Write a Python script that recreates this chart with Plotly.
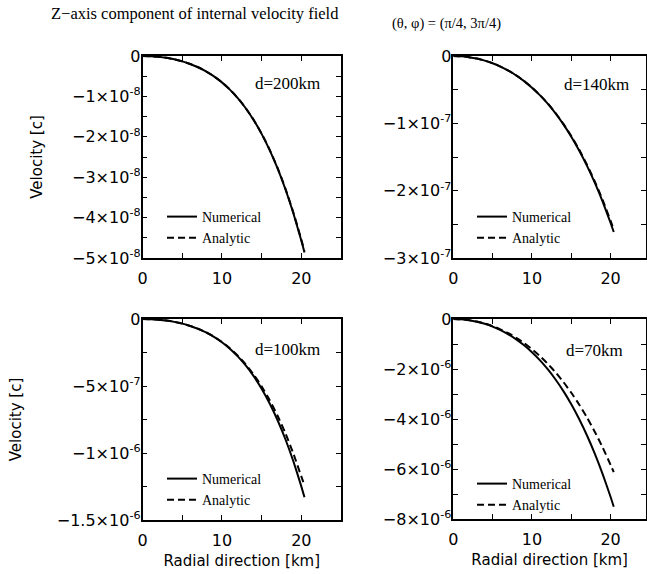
import plotly.graph_objects as go

W, H = 647, 574

# ---------------- data ----------------
R = [0, 1, 2, 3, 4, 5, 6, 7, 8, 9, 10, 11, 12, 13, 14, 15, 16, 17, 18, 19, 20, 20.4]

# d = 200 km, units of 1e-8 c (negative velocities)
D200_NUM = [0, 0.0049, 0.0199, 0.0454, 0.0826, 0.1327, 0.1975, 0.2792, 0.3804, 0.5038, 0.653,
            0.8316, 1.0436, 1.2936, 1.5866, 1.9277, 2.3226, 2.7775, 3.2987, 3.8932, 4.568, 4.862]
D200_ANA = [0, 0.0049, 0.0198, 0.0452, 0.0823, 0.1322, 0.1968, 0.2782, 0.3790, 0.5020, 0.6505,
            0.8285, 1.0395, 1.2885, 1.5800, 1.9195, 2.3125, 2.7650, 3.2830, 3.8740, 4.5440, 4.8350]
# d = 140 km, units of 1e-7 c
D140_NUM = [0, 0.0042, 0.0169, 0.0382, 0.0685, 0.1081, 0.1577, 0.2178, 0.2893, 0.373, 0.47,
            0.5814, 0.7085, 0.8526, 1.0153, 1.1981, 1.4029, 1.6314, 1.8857, 2.1678, 2.48, 2.614]
D140_ANA = [0, 0.0042, 0.0169, 0.0381, 0.0683, 0.1078, 0.1572, 0.2170, 0.2880, 0.3712, 0.4675,
            0.5780, 0.7040, 0.8465, 1.0075, 1.1880, 1.3900, 1.6150, 1.8650, 2.1420, 2.4480, 2.5780]
# d = 100 km, units of 1e-6 c
D100_NUM = [0, 0.00127, 0.00515, 0.0118, 0.0215, 0.0346, 0.0517, 0.0734, 0.1002, 0.1333, 0.1733,
            0.2215, 0.2789, 0.3469, 0.4268, 0.5202, 0.6286, 0.7537, 0.8975, 1.0619, 1.2488, 1.3306]
D100_ANA = [0, 0.00127, 0.00514, 0.0118, 0.0214, 0.0345, 0.0515, 0.0730, 0.0995, 0.1320, 0.1710,
            0.2180, 0.2735, 0.3385, 0.4145, 0.5025, 0.6040, 0.7200, 0.8530, 1.0040, 1.1750, 1.2400]
# d = 70 km, units of 1e-6 c
D70_NUM = [0, 0.0118, 0.0473, 0.1071, 0.1920, 0.3034, 0.4429, 0.6125, 0.8145, 1.0516, 1.327,
           1.6440, 2.0066, 2.4187, 2.8850, 3.4104, 4.0002, 4.6598, 5.3954, 6.2132, 7.12, 7.51]
D70_ANA = [0, 0.0112, 0.0449, 0.1015, 0.1814, 0.2853, 0.4142, 0.5691, 0.7515, 0.9628, 1.2047,
           1.4792, 1.7884, 2.1347, 2.5206, 2.9488, 3.4223, 3.9442, 4.5180, 5.1470, 5.8352, 6.1285]

PANEL_LABELS = ["d=200km", "d=140km", "d=100km", "d=70km"]
PANEL_UNITS = [1e-8, 1e-7, 1e-6, 1e-6]
SERIES_NAMES = ["Numerical", "Analytic"]

# y tick values (in panel units) and labels
Y_TICKS = [
    [0, -0.5, -1, -1.5, -2, -2.5, -3, -3.5, -4, -4.5, -5],
    [0, -0.5, -1, -1.5, -2, -2.5, -3],
    [0, -0.25, -0.5, -0.75, -1.0, -1.25, -1.5],
    [0, -1, -2, -3, -4, -5, -6, -7, -8],
]
Y_TICKTEXT = [
    ["0", "", "−1×10<sup>-8</sup>", "", "−2×10<sup>-8</sup>", "", "−3×10<sup>-8</sup>", "",
     "−4×10<sup>-8</sup>", "", "−5×10<sup>-8</sup>"],
    ["0", "", "−1×10<sup>-7</sup>", "", "−2×10<sup>-7</sup>", "", "−3×10<sup>-7</sup>"],
    ["0", "", "−5×10<sup>-7</sup>", "", "−1×10<sup>-6</sup>", "", "−1.5×10<sup>-6</sup>"],
    ["0", "", "−2×10<sup>-6</sup>", "", "−4×10<sup>-6</sup>", "", "−6×10<sup>-6</sup>", "",
     "−8×10<sup>-6</sup>"],
]
Y_MIN = [-5, -3, -1.5, -8]
X_TICKS = [0, 5, 10, 15, 20, 25]
X_TICKTEXT = ["0", "", "10", "", "20", ""]
X_MAX = [25, 24.5, 25, 24.5]

DATA = [(D200_NUM, D200_ANA), (D140_NUM, D140_ANA), (D100_NUM, D100_ANA), (D70_NUM, D70_ANA)]

# ---------------- layout geometry (pixels) ----------------
def fx(p):
    return p / W

def fy(p):
    return 1 - p / H

PANELS = [  # (x0, x1, ytop, ybottom)
    (142.5, 341, 56, 258),
    (453.3, 646, 56, 258),
    (142.5, 341, 319, 520),
    (453.3, 646, 319, 519),
]
LABEL_POS = [(287.5, 83), (596.7, 84), (287, 349), (594, 350)]
LEGEND_POS = [(162, 201), (472, 201), (162, 463), (472, 468)]
YTITLE_STANDOFF = [26, 0, 32, 0]

SANS = "DejaVu Sans, Verdana, sans-serif"
SERIF = "Liberation Serif, Times New Roman, serif"

fig = go.Figure()
layout = dict(
    width=W, height=H,
    margin=dict(l=0, r=0, t=0, b=0, autoexpand=False),
    paper_bgcolor="white", plot_bgcolor="white",
    showlegend=True,
)
annotations = []

for i in range(4):
    n = "" if i == 0 else str(i + 1)
    num, ana = DATA[i]
    unit = PANEL_UNITS[i]
    lg = "legend" + n
    for vals, name, dash in ((num, SERIES_NAMES[0], "solid"), (ana, SERIES_NAMES[1], "7px,4px")):
        fig.add_trace(go.Scatter(
            x=R, y=[-v * unit for v in vals], mode="lines", name=name,
            line=dict(color="black", width=2, dash=dash, shape="spline", smoothing=0.5),
            xaxis="x" + n, yaxis="y" + n, legend=lg, showlegend=True,
        ))
    x0, x1, yt, yb = PANELS[i]
    layout["xaxis" + n] = dict(
        domain=[fx(x0), fx(x1)], anchor="y" + n, range=[0, X_MAX[i]], automargin=False,
        tickvals=X_TICKS, ticktext=X_TICKTEXT, ticks="inside", ticklen=5, tickwidth=1.2,
        tickcolor="black", showline=True, linecolor="black", linewidth=1.5, mirror="ticks",
        showgrid=False, zeroline=False, tickfont=dict(family=SANS, size=16, color="black"),
        ticklabelstandoff=5,
        title=dict(text="Radial direction [km]" if i >= 2 else "",
                   font=dict(family=SANS, size=15, color="black"), standoff=7),
    )
    layout["yaxis" + n] = dict(
        domain=[fy(yb), fy(yt)], anchor="x" + n, range=[Y_MIN[i] * unit, 0], automargin=False,
        tickvals=[t * unit for t in Y_TICKS[i]], ticktext=Y_TICKTEXT[i],
        ticks="inside", ticklen=5, tickwidth=1.2,
        tickcolor="black", showline=True, linecolor="black", linewidth=1.5, mirror="ticks",
        showgrid=False, zeroline=False, tickfont=dict(family=SANS, size=16, color="black"),
        ticklabelstandoff=-3,
        title=dict(text="Velocity [c]" if i in (0, 2) else "",
                   font=dict(family=SANS, size=15, color="black"), standoff=YTITLE_STANDOFF[i]),
    )
    lx, ly = LEGEND_POS[i]
    layout[lg] = dict(
        x=fx(lx), y=fy(ly), xanchor="left", yanchor="top", xref="paper", yref="paper",
        bgcolor="rgba(0,0,0,0)", borderwidth=0, itemwidth=30, tracegroupgap=0,
        font=dict(family=SERIF, size=14, color="black"),
    )
    px_, py_ = LABEL_POS[i]
    annotations.append(dict(
        text=PANEL_LABELS[i], x=fx(px_), y=fy(py_), xref="paper", yref="paper",
        xanchor="center", yanchor="middle", showarrow=False,
        font=dict(family=SERIF, size=17, color="black"),
    ))

annotations.append(dict(
    text="Z−axis component of internal velocity field", x=fx(194.5), y=fy(13),
    xref="paper", yref="paper", xanchor="center", yanchor="middle", showarrow=False,
    font=dict(family=SERIF, size=16.5, color="black"),
))
annotations.append(dict(
    text="(θ, φ) = (π/4, 3π/4)", x=fx(446), y=fy(23),
    xref="paper", yref="paper", xanchor="center", yanchor="middle", showarrow=False,
    font=dict(family=SERIF, size=14.5, color="black"),
))
layout["annotations"] = annotations
fig.update_layout(**layout)
fig.write_html("out.html")
